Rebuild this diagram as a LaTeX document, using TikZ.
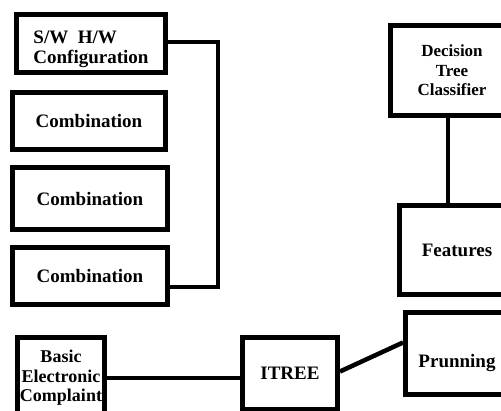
\documentclass[tikz,border=0pt]{standalone}
\usepackage{fontspec}
\setmainfont{Liberation Serif}
\usetikzlibrary{positioning}

\begin{document}
\begin{tikzpicture}[x=1pt, y=-1pt,
      block/.style={draw, line width=5pt, align=center, inner sep=2pt,
        font=\fontsize{19}{20}\selectfont\bfseries},
      link/.style={line width=4.5pt}
    ]
    \useasboundingbox (0,0) rectangle (501,410);
    \clip (0,0) rectangle (501,410);
    % left column
    \node[block, align=left, text height=44pt, text depth=4pt, minimum width=149pt, minimum height=58pt] (config) at (91,43.5) {S/W\ \ H/W\\Configuration};
    \node[block, minimum width=153pt, minimum height=57pt] (comb1) at (89,121) {Combination};
    \node[block, minimum width=155pt, minimum height=62pt] (comb2) at (90,198.5) {Combination};
    \node[block, minimum width=155pt, minimum height=57pt] (comb3) at (90,276) {Combination};
    \coordinate (jtop) at (218,42);
    \coordinate (jbot) at (218,287);
    \draw[link] (config.east |- jtop) -- (jtop) -- (jbot) -- (comb3.east |- jbot);
    % right column
    \node[block, font=\fontsize{17}{19.5}\selectfont\bfseries, minimum width=123pt, minimum height=90pt] (dtc) at (452,70.5) {Decision\\Tree\\Classifier};
    \node[block, minimum width=115pt, minimum height=89pt] (feat) at (457,250) {Features};
    \draw[link] ([xshift=-4pt]dtc.south) -- ([xshift=-4pt]dtc.south |- feat.north);
    % bottom row
    \node[block, font=\fontsize{18}{19.5}\selectfont\bfseries, minimum width=87pt, minimum height=81pt] (bec) at (61,378) {Basic\\Electronic\\Complaint};
    \node[block, minimum width=95pt, minimum height=72pt] (itree) at (290,373.5) {ITREE};
    \node[block, text height=32pt, minimum width=103pt, minimum height=82pt] (prun) at (457,353.5) {Prunning};
    \draw[link] (bec.east) -- (bec.east -| itree.west);
    \draw[link] ([yshift=2pt]itree.east) -- ([yshift=11pt]prun.west);
  \end{tikzpicture}
\end{document}
